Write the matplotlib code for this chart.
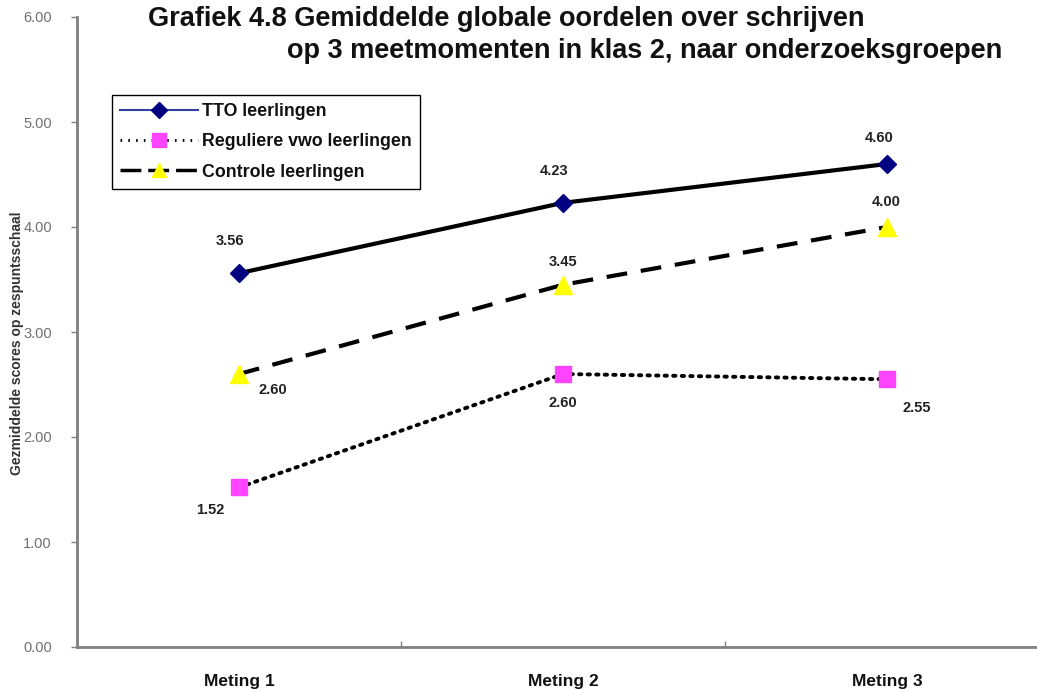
import matplotlib
matplotlib.use("Agg")
import matplotlib.pyplot as plt
from matplotlib.lines import Line2D

categories = ["Meting 1", "Meting 2", "Meting 3"]
tto = [3.56, 4.23, 4.60]
regulier = [1.52, 2.60, 2.55]
controle = [2.60, 3.45, 4.00]
series_names = ["TTO leerlingen", "Reguliere vwo leerlingen", "Controle leerlingen"]
yticks = [0, 1, 2, 3, 4, 5, 6]

plt.rcParams['font.family'] = ['Liberation Sans', 'DejaVu Sans']

W, H = 1037, 690
fig = plt.figure(figsize=(W / 100, H / 100), dpi=100)
# axes: x from 77 to 1049 px, y from 17 to 647 px
ax = fig.add_axes([77 / W, 1 - 647 / H, (1049 - 77) / W, (647 - 17) / H])
ax.set_xlim(-0.5, 2.5)
ax.set_ylim(0, 6)

x = list(range(len(categories)))
ax.plot(x, tto, color='black', lw=3, marker='D', ms=9, mfc='#000080', mec='#000080', zorder=3)
ax.plot(x, regulier, color='black', lw=2.8, ls=(0, (0.6, 1.6)), dash_capstyle='round',
        marker='s', ms=12, mfc='#FF44FF', mec='#FF44FF', zorder=3)
ax.plot(x, controle, color='black', lw=3, ls=(0, (5, 3.3)), marker='^', ms=13,
        mfc='#FFFF00', mec='#FFFF00', zorder=3)

lab = dict(fontsize=10.5, fontweight='bold', color='#222222', ha='center', va='center')
offs_tto = [(-9, 32), (-9, 32), (-8, 26)]
offs_reg = [(-29, -23), (0, -29), (30, -29)]
offs_con = [(34, -16), (0, 23), (-1, 25)]
for vals, offs in ((tto, offs_tto), (regulier, offs_reg), (controle, offs_con)):
    for i, (v, o) in enumerate(zip(vals, offs)):
        ax.annotate(f"{v:.2f}", (i, v), xytext=o, textcoords='offset pixels', **lab)

for s in ('top', 'right'):
    ax.spines[s].set_visible(False)
for s in ('left', 'bottom'):
    ax.spines[s].set_color('#808080')
    ax.spines[s].set_linewidth(2)

ax.set_yticks(yticks)
ax.set_yticklabels([f"{v:.2f}" for v in yticks], color='#707070', fontsize=10.5)
ax.tick_params(axis='y', length=4, color='#808080', width=1, pad=14)
ax.set_xticks([0.5, 1.5])
ax.set_xticklabels([])
ax.tick_params(axis='x', length=4, color='#808080', width=1, direction='in')
for i, c in enumerate(categories):
    ax.text(i, -0.33, c, ha='center', va='center', fontsize=12.5, fontweight='bold',
            color='#111111', transform=ax.transData, clip_on=False)

fig.text(17 / W, 1 - 343 / H, "Gezmiddelde scores op zespuntsschaal", rotation=90,
         ha='center', va='center', fontsize=10, fontweight='bold', color='#333333')

fig.text(148 / W, 1 - 19 / H, "Grafiek 4.8 Gemiddelde globale oordelen over schrijven",
         ha='left', va='center', fontsize=19.5, fontweight='bold', color='#111111')
fig.text(1002 / W, 1 - 51 / H, "op 3 meetmomenten in klas 2, naar onderzoeksgroepen",
         ha='right', va='center', fontsize=19.5, fontweight='bold', color='#111111')

handles = [
    Line2D([], [], color='#3040a0', lw=1.5, marker='D', ms=8, mfc='#000080', mec='#000080'),
    Line2D([], [], color='black', lw=2, ls=(0, (0.6, 2.2)), marker='s', ms=10, mfc='#FF44FF', mec='#FF44FF'),
    Line2D([], [], color='black', lw=2.5, ls=(0, (6, 2)), marker='^', ms=10, mfc='#FFFF00', mec='#FFFF00'),
]
leg = fig.legend(handles, series_names, loc='upper left', bbox_to_anchor=(112 / W, 1 - 95 / H),
                 frameon=True, fancybox=False, edgecolor='black', framealpha=1,
                 prop={'weight': 'bold', 'size': 12.8}, handlelength=4.4, handletextpad=0.2,
                 borderpad=0.45, labelspacing=0.75, borderaxespad=0)
leg.get_frame().set_linewidth(1)
for t in leg.get_texts():
    t.set_color('#111111')

fig.savefig("out.png", dpi=100)
